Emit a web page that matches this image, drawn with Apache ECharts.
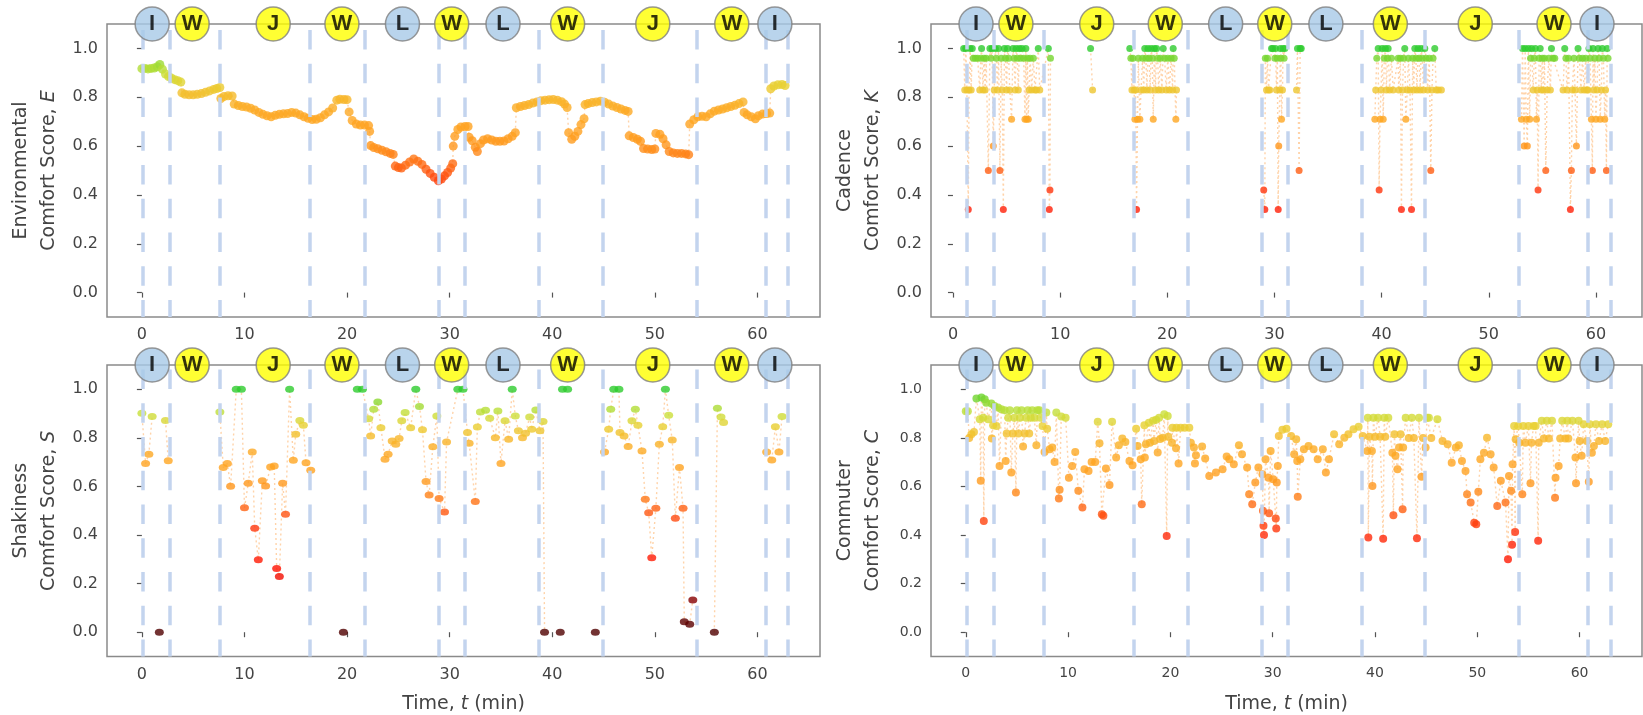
<!DOCTYPE html>
<html>
<head>
<meta charset="utf-8">
<script src="https://cdn.jsdelivr.net/npm/echarts@6/dist/echarts.min.js"></script>
<style>
  html, body { margin: 0; padding: 0; background: #fff; }
  #main { width: 1643px; height: 715px; }
</style>
</head>
<body>
<div id="main"></div>
<script>
// phase boundaries (min) and the phase markers drawn on the top frame
const phaseBoundaries = [0.1, 2.7, 7.6, 16.4, 21.7, 28.9, 31.5, 38.7, 44.9, 54.1, 60.8, 63.0];
const phaseLabels = ["I", "W", "J", "W", "L", "W", "L", "W", "J", "W", "I"];
const phaseLabelTimes = [1.0, 4.9, 12.8, 19.5, 25.4, 30.2, 35.2, 41.5, 49.8, 57.5, 61.7];

const xTicks = [0, 10, 20, 30, 40, 50, 60];
const yTicks = [0, 0.2, 0.4, 0.6, 0.8, 1.0];

// each panel: runs of [t, score]; the dotted line joins points inside one run
const envRuns = [[
  [0.0,.917],[0.3,.918],[0.6,.916],[0.9,.918],[1.2,.92],[1.5,.925],[1.75,.934],[2.0,.915],[2.3,.895],[2.6,.885],[2.9,.878],[3.2,.872],[3.5,.868],[3.8,.862],
  [3.9,.818],[4.2,.812],[4.6,.81],[5.0,.81],[5.4,.812],[5.8,.815],[6.2,.82],[6.6,.826],[7.0,.832],[7.3,.836],[7.6,.84],
  [7.7,.795],[8.0,.803],[8.4,.806],[8.8,.805],
  [9.0,.772],[9.4,.766],[9.8,.762],[10.2,.76],[10.6,.755],[11.0,.748],[11.4,.738],[11.8,.73],[12.2,.724],[12.6,.72],[13.0,.726],[13.4,.73],[13.8,.732],[14.2,.733],[14.6,.738],[15.0,.735],[15.4,.728],[15.8,.72],[16.2,.714],[16.6,.709],[17.0,.71],[17.4,.716],[17.8,.728],[18.2,.74],[18.6,.756],[19.0,.788],[19.3,.792],[19.7,.791],[20.0,.79],
  [20.2,.74],[20.5,.705],[20.9,.69],[21.3,.686],[21.7,.686],[22.1,.684],
  [22.2,.66],[22.3,.602],[22.6,.594],[23.0,.589],[23.4,.583],[23.8,.577],[24.2,.57],[24.5,.566],
  [24.7,.518],[25.0,.512],[25.3,.51],[25.7,.522],[26.1,.535],[26.5,.547],[26.9,.538],[27.3,.525],[27.7,.505],[28.1,.488],[28.5,.472],[28.9,.458],[29.2,.465],[29.5,.478],[29.8,.492],[30.1,.51],[30.3,.528],
  [30.35,.6],[30.5,.64],[30.8,.668],[31.1,.678],[31.5,.68],[31.8,.68],
  [31.9,.636],[32.2,.622],[32.5,.595],[32.7,.578],[33.0,.61],[33.3,.625],[33.7,.63],[34.1,.625],[34.5,.62],[34.9,.62],[35.3,.621],[35.7,.63],[36.1,.64],[36.4,.655],
  [36.5,.757],[36.9,.762],[37.3,.766],[37.7,.77],[38.1,.776],[38.5,.781],[38.9,.786],[39.3,.788],[39.7,.79],[40.1,.791],[40.5,.788],[40.9,.782],[41.2,.772],[41.45,.758],
  [41.6,.655],[41.9,.628],[42.2,.64],[42.5,.66],[42.8,.688],[43.1,.712],
  [43.2,.77],[43.5,.774],[43.9,.778],[44.3,.781],[44.7,.784],[45.1,.78],[45.5,.772],[45.9,.764],[46.3,.758],[46.7,.752],[47.1,.746],[47.4,.742],
  [47.5,.642],[47.9,.635],[48.3,.628],[48.6,.62],[48.9,.59],[49.3,.588],[49.7,.586],[50.0,.588],
  [50.1,.652],[50.5,.648],[50.8,.63],[51.1,.605],[51.4,.578],[51.8,.572],[52.2,.57],[52.6,.57],[53.0,.568],[53.3,.565],
  [53.4,.69],[53.8,.708],[54.2,.72],[54.6,.722],[55.0,.72],[55.4,.732],[55.8,.743],[56.2,.748],[56.6,.752],[57.0,.757],[57.4,.762],[57.8,.767],[58.2,.774],[58.6,.781],
  [58.7,.738],[59.0,.728],[59.4,.72],[59.8,.712],[60.1,.724],[60.5,.731],[60.9,.733],[61.2,.735],
  [61.3,.835],[61.6,.846],[62.0,.851],[62.4,.852],[62.7,.848]
]];

const cadenceRuns = [
  [[1.0,1],[1.1,.83],[1.2,1],[1.3,.83],[1.43,.34],[1.5,.83],[1.6,1],[1.7,.83],[1.8,1],[1.9,.96],[2.1,.96],[2.3,.96],[2.5,.83],[2.6,.96],[2.67,1],[2.8,.83],[2.9,.96],[3.0,.83],[3.1,.96],[3.3,.5],[3.45,1],[3.55,.96],[3.65,1],[3.76,.6],[3.85,.83],[3.95,1],[4.05,.96],[4.15,.83],[4.25,1],[4.38,.5],[4.5,.96],[4.6,.83],[4.7,.34],[4.8,1],[4.9,.96],[5.0,.83],[5.1,1],[5.2,.96],[5.3,.83],[5.47,.71],[5.6,1],[5.7,.96],[5.8,.83],[5.9,1],[6.0,.96],[6.1,.83],[6.2,1],[6.3,.96],[6.45,1],[6.6,.96],[6.72,.71],[6.8,1],[6.87,.71],[6.95,.96],[7.03,.71],[7.1,.83],[7.2,.96],[7.35,.83],[7.5,.96],[7.65,.83],[7.8,.83],[7.96,1],[8.1,.83],[8.9,1],[8.99,.34],[9.05,.42],[9.1,.96]],
  [[12.84,1],[13.03,.83]],
  [[16.5,1],[16.6,.96],[16.7,.83],[16.8,.96],[16.9,.83],[16.98,.71],[17.05,.83],[17.13,.34],[17.22,.71],[17.3,.96],[17.44,.71],[17.55,.83],[17.7,.96],[17.8,.83],[17.9,1],[18.0,.96],[18.1,.83],[18.2,1],[18.3,.96],[18.4,.83],[18.5,1],[18.6,.96],[18.69,.71],[18.8,1],[18.9,.83],[19.0,1],[19.1,.96],[19.2,.83],[19.35,.96],[19.5,.83],[19.62,1],[19.75,.96],[19.9,.83],[20.05,.96],[20.2,.83],[20.35,.96],[20.5,.83],[20.55,1],[20.65,.96],[20.8,.71],[20.86,.83]],
  [[29.0,.42],[29.1,.34],[29.15,.96],[29.26,.83],[29.35,.96],[29.45,.83],[29.57,.83],[29.73,1],[29.85,1],[30.04,.96],[30.1,1],[30.19,.83],[30.27,.96],[30.35,.34],[30.4,.6],[30.5,.83],[30.55,1],[30.6,.96],[30.66,.71],[30.75,.83],[30.8,1],[30.9,.96],[30.97,1]],
  [[32.06,.83],[32.15,1],[32.3,.5],[32.4,1],[32.5,1]],
  [[39.37,.71],[39.45,.83],[39.55,.96],[39.68,1],[39.77,.42],[39.85,.71],[39.95,.83],[40.05,1],[40.15,.71],[40.25,.96],[40.35,1],[40.45,.83],[40.55,.96],[40.61,1],[40.75,.83],[40.92,.96],[41.08,.83],[41.54,.96],[41.6,.83],[41.75,.96],[41.85,.34],[41.95,.83],[42.05,.96],[42.16,1],[42.26,.71],[42.4,.83],[42.5,.96],[42.65,.83],[42.79,.34],[42.9,.96],[43.0,.83],[43.1,1],[43.2,.96],[43.3,.83],[43.4,1],[43.5,.96],[43.6,.83],[43.7,1],[43.8,.96],[43.9,.83],[44.03,1],[44.15,.96],[44.3,.83],[44.45,.96],[44.59,.5],[44.7,.83],[44.8,.96],[44.96,1],[45.1,.83],[45.3,.83],[45.58,.83]],
  [[53.05,.71],[53.15,1],[53.3,.6],[53.4,1],[53.5,.71],[53.6,.6],[53.7,1],[53.82,.71],[53.9,.96],[54.0,1],[54.14,.83],[54.25,.96],[54.35,1],[54.45,.71],[54.52,.83],[54.6,.42],[54.7,.96],[54.8,1],[54.9,.83],[55.0,.96],[55.1,.83],[55.2,.96],[55.32,.5],[55.45,.83],[55.6,.96],[55.75,.83],[55.85,1],[56.0,.96],[56.16,.96],[56.93,.83],[57.09,1],[57.2,.96],[57.3,.83],[57.45,.96],[57.62,.34],[57.71,.5],[57.8,.83],[57.95,.96],[58.05,.83],[58.18,.6],[58.33,1],[58.45,.96],[58.6,.83],[58.75,.96],[58.9,.83],[59.05,.96],[59.15,.83],[59.27,.83],[59.35,1],[59.45,.96],[59.58,.71],[59.67,.5],[59.73,1],[59.8,.83],[59.9,.96],[60.0,.71],[60.1,.83],[60.2,1],[60.3,.96],[60.4,.71],[60.5,.83],[60.6,1],[60.7,.96],[60.82,.71],[60.9,.83],[60.98,.5],[61.05,1],[61.13,.96]]
];

const shakinessRuns = [
  [[0.0,.901],[0.36,.694],[0.68,.733],[1.0,.888]],
  [[1.7,0]],
  [[2.3,.872],[2.57,.706]],
  [[7.6,.907],[7.93,.678],[8.33,.694],[8.65,.601],[9.2,1],[9.7,1],[10.0,.512],[10.37,.613],[10.76,.742],[11.0,.428],[11.35,.298],[11.74,.623],[12.06,.602],[12.55,.68],[12.9,.684],[13.14,.262],[13.4,.229],[13.72,.613],[14.0,.486],[14.4,1],[14.76,.708],[15.0,.815],[15.4,.872],[15.74,.852],[16.0,.698],[16.46,.667]],
  [[19.64,0]],
  [[21.0,1],[21.5,1],[22.1,.879],[22.3,.808],[22.6,.918],[23.0,.948],[23.3,.842],[23.7,.712],[24.0,.733],[24.4,.787],[24.75,.774],[25.07,.797],[25.33,.87],[25.66,.904],[26.2,.842],[26.7,1],[27.06,.929],[27.35,.833],[27.7,.62],[28.0,.565],[28.36,.763],[28.75,.89],[28.97,.55],[29.5,.495],[29.7,.783],[30.8,1],[31.3,1],[31.74,.822],[31.9,.778],[32.5,.538],[32.7,.845],[33.0,.907],[33.5,.914],[33.9,.881],[34.45,.801],[34.7,.911],[35.0,.695],[35.4,.87],[35.75,.794],[36.1,1],[36.4,.89],[36.7,.829],[37.1,.801],[37.4,.819],[37.8,.886],[38.0,.835],[38.4,.915],[38.8,.829],[39.1,.867],[39.25,0]],
  [[40.78,0]],
  [[41.0,1],[41.5,1]],
  [[44.2,0]],
  [[45.1,.742],[45.5,.835],[45.7,.918],[46.0,1],[46.5,1],[46.6,.822],[47.0,.808],[47.4,.764],[47.77,.87],[48.1,.918],[48.35,.852],[48.75,.746],[49.07,.547],[49.4,.492],[49.7,.307],[50.1,.51],[50.44,.774],[50.77,.846],[51.03,1],[51.35,.893],[51.7,.791],[52.0,.469],[52.4,.678],[52.75,.51],[52.87,.043],[53.4,.033],[53.7,.133]],
  [[55.8,0],[56.1,.922],[56.45,.886],[56.7,.863]],
  [[60.9,.742],[61.4,.709],[61.75,.846],[62.1,.742],[62.4,.888]]
];

const commuterRuns = [[
  [0.0,.91],[0.2,.91],[0.33,.80],[0.55,.815],[0.8,.824],[1.04,.962],[1.37,.877],[1.46,.623],[1.53,.966],[1.7,.883],[1.76,.458],[1.85,.959],[2.0,.945],[2.18,.877],[2.5,.942],[2.55,.797],[2.67,.852],[2.8,.931],[3.0,.849],[3.15,.925],[3.3,.684],[3.48,.918],[3.8,.914],[3.9,.705],
  [4.0,.818],[4.15,.883],[4.3,.914],[4.45,.657],[4.6,.818],[4.75,.883],[4.9,.575],[5.0,.914],[5.15,.818],[5.3,.883],[5.45,.914],[5.6,.764],[5.75,.818],[5.9,.883],[6.05,.914],[6.2,.818],[6.35,.883],[6.5,.914],[6.7,.883],[6.9,.77],[7.0,.914],[7.2,.914],[7.3,.883],[7.5,.849],
  [7.7,.742],[7.87,.904],[7.95,.838],[8.2,.753],[8.45,.76],[8.68,.701],[8.85,.904],[9.1,.55],[9.17,.586],[9.33,.888],[9.76,.883],[10.08,.636],[10.4,.684],[10.7,.742],[11.0,.582],[11.4,.513],[11.6,.671],[12.0,.664],[12.3,.701],[12.65,.701],[12.9,.866],[13.07,.778],[13.3,.486],[13.45,.479],[13.7,.674],[14.05,.606],[14.3,.866],[14.7,.719],[14.96,.77],[15.3,.797],[15.6,.783],[16.0,.705],[16.3,.687],
  [16.65,.838],[16.8,.767],[17.1,.712],[17.2,.527],[17.46,.852],[17.5,.719],[17.6,.774],[17.9,.862],[18.0,.78],[18.3,.87],[18.4,.787],[18.6,.875],[18.76,.74],[18.9,.883],[19.0,.795],[19.25,.801],[19.4,.897],[19.64,.396],[19.74,.89],[19.8,.805],[20.15,.78],[20.2,.842],[20.55,.757],[20.6,.842],[20.8,.695],[21.0,.842],[21.4,.842],[21.85,.842],
  [22.0,.78],[22.3,.76],[22.4,.695],[22.5,.728],[23.1,.764],[23.4,.715],[23.8,.643],[24.45,.657],[25.1,.671],[25.5,.723],[25.76,.712],[26.2,.691],[26.7,.77],[27.0,.733],[27.5,.678],[27.7,.568],[28.0,.527],[28.3,.616],[28.6,.678],[29.0,.65],[29.05,.5],[29.1,.438],[29.15,.4],[29.3,.712],[29.6,.636],[29.65,.49],[29.8,.746],[30.05,.63],[30.3,.468],[30.35,.427],[30.4,.616],[30.5,.684],[30.6,.808],[30.95,.833],[31.35,.838],[31.8,.808],[32.1,.733],[32.3,.794],[32.4,.705],[32.45,.558],[32.7,.712],[33.05,.753],[33.5,.767],[34.0,.753],[34.4,.712],[34.9,.753],[35.2,.657],[35.5,.712],[36.0,.815],[36.5,.774],[37.0,.801],[37.4,.815],[37.9,.835],[38.4,.846],[38.8,.808],
  [39.25,.746],[39.3,.883],[39.35,.39],[39.45,.805],[39.7,.746],[39.75,.602],[39.85,.883],[40.0,.805],[40.3,.883],[40.5,.805],[40.8,.385],[40.9,.883],[41.0,.805],[41.3,.883],[41.7,.739],[41.8,.481],[41.9,.815],[42.0,.726],[42.2,.671],[42.35,.76],[42.5,.815],[42.7,.506],[42.75,.76],[43.0,.883],[43.3,.8],[43.6,.883],[43.8,.8],[44.1,.387],[44.3,.883],[44.55,.64],[44.7,.8],[44.95,.76],[45.1,.883],[45.27,.883],[45.5,.8],[46.1,.877],
  [46.6,.787],[47.1,.774],[47.5,.698],[47.9,.76],[48.2,.77],[48.5,.705],[48.85,.664],[49.0,.568],[49.35,.534],[49.7,.451],[49.9,.444],[50.1,.578],[50.3,.712],[50.65,.739],[50.95,.801],[51.3,.733],[51.6,.678],[51.95,.52],[52.3,.623],[52.76,.534],[53.0,.3],[53.1,.643],[53.3,.582],[53.4,.36],[53.45,.691],[53.6,.849],[53.7,.413],[53.75,.794],
  [54.0,.849],[54.1,.78],[54.4,.568],[54.5,.849],[54.7,.78],[55.0,.849],[55.2,.613],[55.3,.78],[55.5,.849],[55.7,.849],[55.95,.376],[56.0,.78],[56.3,.87],[56.5,.797],[56.8,.87],[57.0,.797],[57.3,.87],[57.6,.554],[57.65,.636],[57.95,.684],[58.1,.797],[58.3,.87],[58.6,.797],[58.8,.87],[58.9,.797],[59.3,.87],[59.6,.719],[59.65,.613],[59.9,.87],[60.0,.787],[60.2,.726],[60.4,.856],[60.7,.787],[60.9,.619],[61.0,.856],[61.2,.739],[61.4,.767],[61.6,.856],[61.9,.787],[62.2,.856],[62.5,.787],[62.8,.856]
]];

// score colour ramp, stops evenly spaced from 0 to 1
const scoreColors = ["#500000", "#600000", "#750000", "#900000", "#e00800", "#ff1000", "#ff1a04",
  "#ff2008", "#ff2c0a", "#ff400e", "#ff5c12", "#ff7a16", "#ff961c", "#ffa020", "#ffa522",
  "#fcaa24", "#f7b82a", "#e8d032", "#c8e03a", "#88d830", "#2ecc2e"];

const panels = [
  { title: "Environmental", sym: "E", runs: envRuns, grid: { left: 107, top: 24, width: 713, height: 293 }, xMin: -3.4, xMax: 66.1, size: 9, tickFont: 16, xTitle: false },
  { title: "Cadence", sym: "K", runs: cadenceRuns, grid: { left: 931, top: 24, width: 711, height: 293 }, xMin: -2.05, xMax: 64.3, size: 7, tickFont: 16, xTitle: false },
  { title: "Shakiness", sym: "S", runs: shakinessRuns, grid: { left: 107, top: 365, width: 713, height: 292 }, xMin: -3.4, xMax: 66.1, size: [9, 7], tickFont: 16, xTitle: true },
  { title: "Commuter", sym: "C", runs: commuterRuns, grid: { left: 931, top: 365, width: 711, height: 293 }, xMin: -3.4, xMax: 66.1, size: 8, tickFont: 14, xTitle: true }
];

const textColor = "#444";
const font = "DejaVu Sans";
const nameRich = {
  a: { fontSize: 19, color: textColor, fontFamily: font, lineHeight: 28 },
  b: { fontSize: 19, color: textColor, fontFamily: font, fontStyle: "italic", lineHeight: 28 }
};

const grids = [], xAxes = [], yAxes = [], series = [], pointSeries = [];

panels.forEach((p, i) => {
  grids.push(Object.assign({ show: true, borderColor: "#8a8a8a", borderWidth: 1.5 }, p.grid));
  xAxes.push({
    gridIndex: i, type: "value", min: p.xMin, max: p.xMax,
    axisLine: { show: false }, splitLine: { show: false },
    axisTick: { show: true, length: 5, customValues: xTicks, lineStyle: { color: "#555", width: 1.2 } },
    axisLabel: { customValues: xTicks, color: textColor, fontSize: p.tickFont, fontFamily: font, margin: 10 },
    name: p.xTitle ? "{a|Time, }{b|t}{a| (min)}" : "",
    nameLocation: "middle", nameGap: 34, nameTextStyle: { rich: nameRich }
  });
  yAxes.push({
    gridIndex: i, type: "value", min: -0.1, max: 1.1,
    axisLine: { show: false }, splitLine: { show: false },
    axisTick: { show: true, length: 5, customValues: yTicks, lineStyle: { color: "#555", width: 1.2 } },
    axisLabel: { customValues: yTicks, formatter: v => v.toFixed(1), color: textColor, fontSize: p.tickFont, fontFamily: font, margin: 9 },
    name: "{a|" + p.title + "}\n{a|Comfort Score, }{b|" + p.sym + "}",
    nameLocation: "middle", nameRotate: 90, nameGap: 44, nameTextStyle: { rich: nameRich }
  });
});
// hidden axes shared by the phase decorations (same pixel positions in every panel)
panels.forEach((p, i) => {
  xAxes.push({ gridIndex: i, type: "value", min: -3.4, max: 66.1, show: false });
});

panels.forEach((p, i) => {
  // dashed phase boundaries
  series.push({
    type: "scatter", xAxisIndex: 4 + i, yAxisIndex: i, data: [], silent: true, z: 1,
    markLine: {
      symbol: ["none", "none"], silent: true, label: { show: false },
      lineStyle: { color: "#c3d4ee", width: 3.5, type: [19.5, 14.25], dashOffset: 2.5 },
      data: phaseBoundaries.map(b => ({ xAxis: b }))
    }
  });
  // dotted connectors
  const lineData = [];
  p.runs.forEach((run, k) => {
    if (k) lineData.push(["-", "-"]);
    run.forEach(d => lineData.push(d));
  });
  series.push({
    type: "line", xAxisIndex: i, yAxisIndex: i, data: lineData, symbol: "none", silent: true, z: 2,
    connectNulls: false, lineStyle: { color: "rgba(255,196,140,0.75)", width: 1.4, type: [2, 3] }
  });
  // scored points
  pointSeries.push(series.length);
  series.push({
    type: "scatter", xAxisIndex: i, yAxisIndex: i, data: p.runs.flat(), symbolSize: p.size, z: 3
  });
  // phase circles on the top frame
  series.push({
    type: "scatter", xAxisIndex: 4 + i, yAxisIndex: i, clip: false, silent: true, z: 10, symbolSize: 34,
    data: phaseLabels.map((l, k) => ({
      value: [phaseLabelTimes[k], 1.1],
      itemStyle: { color: (l === "I" || l === "L") ? "#a7c9e7" : "#ffff00" }
    })),
    itemStyle: { borderColor: "#7f7f7f", borderWidth: 1.5 },
    label: {
      show: true, position: "inside", formatter: prm => phaseLabels[prm.dataIndex],
      color: "#000", fontSize: 22, fontWeight: "bold", fontFamily: "Liberation Sans"
    }
  });
});

const chart = echarts.init(document.getElementById("main"));
chart.setOption({
  animation: false,
  backgroundColor: "#fff",
  grid: grids,
  xAxis: xAxes,
  yAxis: yAxes,
  visualMap: {
    type: "continuous", show: false, min: 0, max: 1, dimension: 1,
    seriesIndex: pointSeries, inRange: { color: scoreColors }
  },
  series: series
});
</script>
</body>
</html>
